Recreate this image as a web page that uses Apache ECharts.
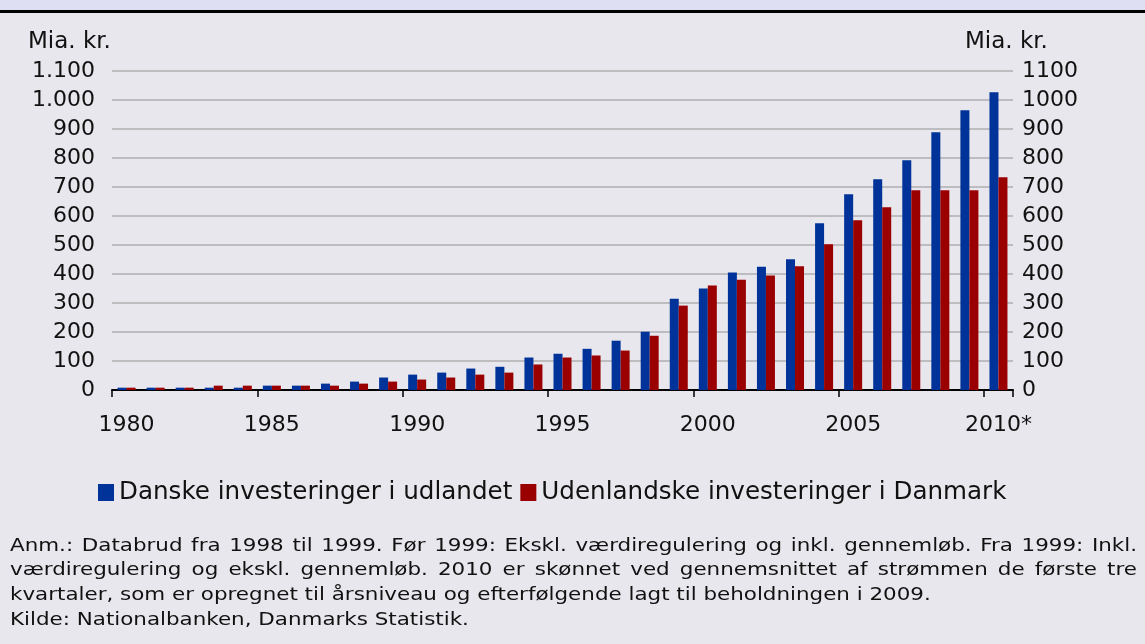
<!DOCTYPE html>
<html>
<head>
<meta charset="utf-8">
<script src="https://cdn.jsdelivr.net/npm/echarts@6/dist/echarts.min.js"></script>
<style>
  html, body { margin: 0; padding: 0; background: #e7e7ed; }
  #chart { width: 1145px; height: 644px; }
</style>
</head>
<body>
<div id="chart"></div>
<script>
// Years on the category axis (last one is an estimate)
var years = ['1980','1981','1982','1983','1984','1985','1986','1987','1988','1989',
             '1990','1991','1992','1993','1994','1995','1996','1997','1998','1999',
             '2000','2001','2002','2003','2004','2005','2006','2007','2008','2009','2010*'];

// Mia. kr.
var danskeUdland = [8, 8, 8, 8, 8, 15, 15, 22, 29, 43,
                    53, 60, 74, 80, 112, 125, 142, 170, 201, 315,
                    350, 405, 425, 451, 575, 675, 727, 792, 889, 965, 1027];
var udenlandskeDK = [8, 8, 8, 15, 15, 15, 15, 15, 22, 29,
                     36, 43, 53, 60, 88, 112, 119, 136, 187, 291,
                     360, 380, 395, 427, 503, 585, 630, 689, 689, 689, 734];

var seriesNames = ['Danske investeringer i udlandet', 'Udenlandske investeringer i Danmark'];

var noteLines = [
    'Anm.: Databrud fra 1998 til 1999. Før 1999: Ekskl. værdiregulering og inkl. gennemløb. Fra 1999: Inkl.',
    'værdiregulering og ekskl. gennemløb. 2010 er skønnet ved gennemsnittet af strømmen de første tre',
    'kvartaler, som er opregnet til årsniveau og efterfølgende lagt til beholdningen i 2009.',
    'Kilde: Nationalbanken, Danmarks Statistik.'
];
var justified = [true, true, false, false];

var font = 'DejaVu Sans';
var noteFont = '18px "DejaVu Sans"';
var noteScale = 1.19;   // the source text is set wider than DejaVu

// lay out the notes word by word so the first lines can be justified
var ctx = document.createElement('canvas').getContext('2d');
ctx.font = noteFont;
var notes = [];
noteLines.forEach(function (line, i) {
    var words = line.split(' ');
    var widths = words.map(function (w) { return ctx.measureText(w).width * noteScale; });
    var sum = widths.reduce(function (a, b) { return a + b; }, 0);
    var gap = justified[i] ? (1127 - sum) / (words.length - 1) : ctx.measureText(' ').width * noteScale;
    var x = 10;
    words.forEach(function (w, j) {
        notes.push({
            type: 'text',
            x: x, y: 546 + i * 24.7,
            scaleX: noteScale,
            style: { text: w, fill: '#111', font: noteFont, verticalAlign: 'middle' }
        });
        x += widths[j] + gap;
    });
});

var chart = echarts.init(document.getElementById('chart'));

chart.setOption({
    backgroundColor: '#e7e7ed',
    animation: false,
    textStyle: { fontFamily: font },
    grid: { left: 112, right: 132, top: 71, bottom: 254 },
    legend: {
        left: 93,
        top: 475,
        icon: 'rect',
        itemWidth: 16,
        itemHeight: 17,
        itemGap: 8,
        textStyle: { fontSize: 24.6, color: '#111', fontFamily: font },
        data: seriesNames
    },
    graphic: [
        { type: 'rect', shape: { x: 0, y: 0, width: 1145, height: 11 }, style: { fill: '#dedff2' } },
        { type: 'rect', shape: { x: 0, y: 10, width: 1145, height: 3 }, style: { fill: '#000' } },
        { type: 'text', x: 28, y: 42, style: { text: 'Mia. kr.', fill: '#111', font: '23px "DejaVu Sans"', verticalAlign: 'middle' } },
        { type: 'text', x: 965, y: 42, style: { text: 'Mia. kr.', fill: '#111', font: '23px "DejaVu Sans"', verticalAlign: 'middle' } }
    ].concat(notes),
    xAxis: {
        type: 'category',
        data: years,
        axisLine: { lineStyle: { color: '#000', width: 2 } },
        axisTick: { show: true, length: 7, lineStyle: { color: '#000', width: 1.5 } },
        axisLabel: { interval: 4, fontSize: 22, color: '#111', margin: 24, fontFamily: font }
    },
    yAxis: [
        {
            type: 'value', min: 0, max: 1100, interval: 100,
            axisLine: { show: false }, axisTick: { show: false },
            splitLine: { lineStyle: { color: '#bdbdc0', width: 2 } },
            axisLabel: {
                fontSize: 22, color: '#111', margin: 17, fontFamily: font,
                formatter: function (v) { return v.toLocaleString('da-DK'); }
            }
        },
        {
            type: 'value', min: 0, max: 1100, interval: 100, position: 'right',
            axisLine: { show: false }, axisTick: { show: false },
            splitLine: { show: false },
            axisLabel: {
                fontSize: 22, color: '#111', margin: 9, fontFamily: font,
                formatter: function (v) { return String(v); }
            }
        }
    ],
    series: [
        { name: seriesNames[0], type: 'bar', data: danskeUdland, barWidth: 9, barGap: '0%', itemStyle: { color: '#003399' } },
        { name: seriesNames[1], type: 'bar', data: udenlandskeDK, barWidth: 9, barGap: '0%', itemStyle: { color: '#9b0000' } }
    ]
});
</script>
</body>
</html>
